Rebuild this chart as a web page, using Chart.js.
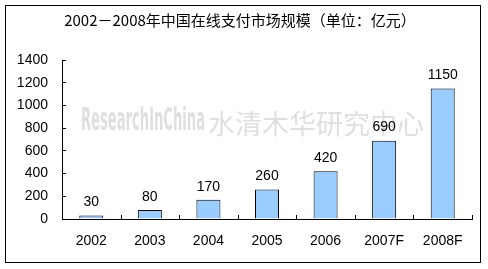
<!DOCTYPE html>
<html>
<head>
<meta charset="utf-8">
<script src="https://cdn.jsdelivr.net/npm/chart.js@4/dist/chart.umd.min.js"></script>
<style>
  html, body { margin: 0; padding: 0; background: #fff; }
</style>
</head>
<body>
<canvas id="chart" width="488" height="269"></canvas>
<script>
var titleText = '2002－2008年中国在线支付市场规模（单位：亿元）';
var years = ['2002', '2003', '2004', '2005', '2006', '2007F', '2008F'];
var marketSize = [30, 80, 170, 260, 420, 690, 1150];
var yTicks = [0, 200, 400, 600, 800, 1000, 1200, 1400];

var numFont = '14px "Liberation Sans", Arial, sans-serif';

// frame, title, watermark, inward x ticks and value labels
var decor = {
  id: 'decor',
  beforeDatasetsDraw: function(chart) {
    var ctx = chart.ctx;
    ctx.save();
    ctx.fillStyle = 'rgba(185,185,185,0.45)';
    ctx.textBaseline = 'middle';
    ctx.font = 'bold 32px "DejaVu Sans Condensed", "Liberation Sans Narrow", sans-serif';
    var w = ctx.measureText('ResearchInChina').width;
    ctx.save();
    ctx.translate(81, 122);
    ctx.scale(124 / w, 1);
    ctx.fillText('ResearchInChina', 0, 0);
    ctx.restore();
    ctx.font = '27px "Noto Sans CJK SC", sans-serif';
    ctx.fillText('水清木华研究中心', 208, 124);
    ctx.restore();
  },
  afterDraw: function(chart) {
    var ctx = chart.ctx;
    var x = chart.scales.x, y = chart.scales.y;
    ctx.save();
    ctx.strokeStyle = '#000';
    ctx.lineWidth = 1;
    ctx.strokeRect(5.5, 5.5, 475, 257);

    ctx.fillStyle = '#000';
    ctx.textAlign = 'center';
    ctx.textBaseline = 'middle';
    ctx.font = '15px "Noto Sans CJK SC", sans-serif';
    ctx.fillText(titleText, 240, 20);

    // x ticks between categories, pointing up
    ctx.beginPath();
    for (var i = 0; i <= years.length; i++) {
      var px = Math.round(x.left + (x.right - x.left) * i / years.length) + 0.5;
      ctx.moveTo(px, y.bottom);
      ctx.lineTo(px, y.bottom - 4);
    }
    ctx.stroke();

    ctx.font = numFont;
    var meta = chart.getDatasetMeta(0);
    meta.data.forEach(function(bar, i) {
      ctx.fillText(String(marketSize[i]), bar.x, bar.y - 13);
    });
    ctx.restore();
  }
};

new Chart(document.getElementById('chart'), {
  type: 'bar',
  data: {
    labels: years,
    datasets: [{
      data: marketSize,
      backgroundColor: '#99CCFF',
      borderColor: '#000',
      borderWidth: 1,
      borderSkipped: 'bottom',
      categoryPercentage: 1,
      barPercentage: 0.41
    }]
  },
  options: {
    responsive: false,
    animation: false,
    devicePixelRatio: 1,
    layout: { padding: { left: 0, right: 16, top: 60, bottom: 0 } },
    plugins: { legend: { display: false }, tooltip: { enabled: false } },
    scales: {
      x: {
        grid: { display: true, drawOnChartArea: false, drawTicks: false },
        border: { color: '#000', width: 1 },
        ticks: { color: '#000', font: { family: '"Liberation Sans", Arial, sans-serif', size: 14 }, padding: 14, maxRotation: 0 },
        afterFit: function(s) { s.height = 50; }
      },
      y: {
        min: 0,
        max: 1400,
        afterBuildTicks: function(s) { s.ticks = yTicks.map(function(v) { return { value: v }; }); },
        grid: { drawOnChartArea: false, tickLength: -4, color: '#000' },
        border: { color: '#000', width: 1 },
        ticks: {
          color: '#000',
          font: { family: '"Liberation Sans", Arial, sans-serif', size: 14 },
          padding: 18,
          callback: function(v) { return String(v); }
        },
        afterFit: function(s) { s.width = 62; }
      }
    }
  },
  plugins: [decor]
});
</script>
</body>
</html>
